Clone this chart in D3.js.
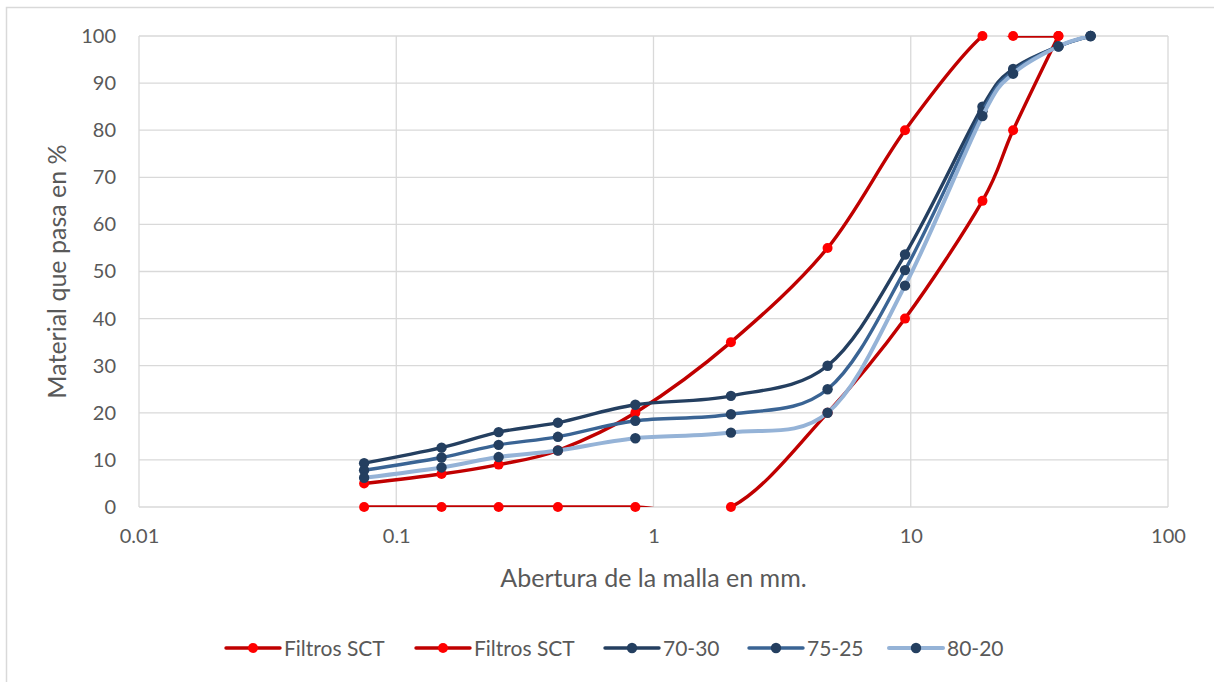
<!DOCTYPE html>
<html>
<head>
<meta charset="utf-8">
<script src="https://cdn.jsdelivr.net/npm/d3@7"></script>
<style>
  body { margin: 0; background: #fff; }
  text { font-family: Lato, "Noto Sans", sans-serif; fill: #595959; }
</style>
</head>
<body>
<div id="chart"></div>
<script>
// sieve openings (mm)
var sieves = [0.075, 0.15, 0.25, 0.425, 0.85, 2, 4.75, 9.5, 19, 25, 37.5, 50];

var sctUpper = [5, 7, 9, 12, 20, 35, 55, 80, 100, 100, 100];
var sctLower = [0, 0, 0, 0, 0, 0, 20, 40, 65, 80, 100];
var mix7030 = [9.3, 12.6, 15.9, 17.9, 21.7, 23.6, 30, 53.6, 85, 93, 97.8, 100];
var mix7525 = [7.8, 10.5, 13.2, 14.9, 18.3, 19.7, 25, 50.3, 84, 92.5, 97.8, 100];
var mix8020 = [6.2, 8.4, 10.6, 12, 14.6, 15.8, 20, 47, 83, 92, 97.8, 100];

var xTicks = [0.01, 0.1, 1, 10, 100];
var yTicks = [0, 10, 20, 30, 40, 50, 60, 70, 80, 90, 100];

var series = [
  { name: "Filtros SCT", values: sctUpper, line: "#C00000", marker: "#FF0000", r: 5, w: 3.4 },
  { name: "Filtros SCT", values: sctLower, line: "#C00000", marker: "#FF0000", r: 5, w: 3.4 },
  { name: "70-30", values: mix7030, line: "#243F60", marker: "#243F60", r: 5.2, w: 3.4 },
  { name: "75-25", values: mix7525, line: "#3A6494", marker: "#243F60", r: 5.2, w: 3.4 },
  { name: "80-20", values: mix8020, line: "#95B3D7", marker: "#243F60", r: 5.2, w: 4 }
];

var W = 1214, H = 682;
var margin = {top: 36, right: 46, bottom: 175, left: 139};
var width = W - margin.left - margin.right,
    height = H - margin.top - margin.bottom;

var x = d3.scaleLog().domain([0.01, 100]).range([0, width]);
var y = d3.scaleLinear().domain([0, 100]).range([height, 0]);

var svg = d3.select("#chart").append("svg")
    .attr("width", W).attr("height", H);

// chart border (only left/top visible in the crop)
svg.append("path")
    .attr("d", "M6.5," + H + "V7.5H" + W)
    .attr("fill", "none").attr("stroke", "#d9d9d9").attr("stroke-width", 1.5);

var g = svg.append("g")
    .attr("transform", "translate(" + margin.left + "," + margin.top + ")");

// gridlines
g.selectAll(".hgrid").data(yTicks).enter().append("line")
    .attr("x1", 0).attr("x2", width)
    .attr("y1", function(d) { return y(d); }).attr("y2", function(d) { return y(d); })
    .attr("stroke", "#d9d9d9").attr("stroke-width", 1.3);
g.selectAll(".vgrid").data(xTicks).enter().append("line")
    .attr("y1", 0).attr("y2", height)
    .attr("x1", function(d) { return x(d); }).attr("x2", function(d) { return x(d); })
    .attr("stroke", "#d9d9d9").attr("stroke-width", 1.3);

// axes
var xAxis = d3.axisBottom(x).tickValues(xTicks).tickSize(0).tickPadding(22)
    .tickFormat(function(d) { return String(d); });
g.append("g").attr("transform", "translate(0," + height + ")").call(xAxis)
    .call(function(s) { s.select(".domain").remove(); })
    .selectAll("text").style("font-size", "20px").attr("fill", "#595959");

var yAxis = d3.axisLeft(y).tickValues(yTicks).tickSize(0).tickPadding(23);
g.append("g").call(yAxis)
    .call(function(s) { s.select(".domain").remove(); })
    .selectAll("text").style("font-size", "20px").attr("fill", "#595959");

// axis titles
svg.append("text")
    .attr("x", margin.left + width / 2).attr("y", 587)
    .attr("text-anchor", "middle").style("font-size", "25px")
    .text("Abertura de la malla en mm.");
svg.append("text")
    .attr("transform", "translate(66," + (margin.top + height / 2) + ") rotate(-90)")
    .attr("text-anchor", "middle").style("font-size", "25px")
    .text("Material que pasa en %");

// clip to plot area
svg.append("defs").append("clipPath").attr("id", "plotclip")
  .append("rect").attr("x", 0).attr("y", 0).attr("width", width).attr("height", height);

var line = d3.line()
    .x(function(d) { return x(d[0]); })
    .y(function(d) { return y(d[1]); })
    .curve(d3.curveCatmullRom.alpha(0));

var plot = g.append("g");
series.forEach(function(s) {
  var pts = s.values.map(function(v, i) { return [sieves[i], v]; });
  plot.append("path")
      .attr("d", line(pts))
      .attr("clip-path", "url(#plotclip)")
      .attr("fill", "none").attr("stroke", s.line).attr("stroke-width", s.w)
      .attr("stroke-linecap", "round");
  plot.selectAll(null).data(pts).enter().append("circle")
      .attr("cx", function(d) { return x(d[0]); })
      .attr("cy", function(d) { return y(d[1]); })
      .attr("r", s.r).attr("fill", s.marker);
});

// legend
var legendX = [226, 416, 605, 749, 889];
var leg = svg.append("g").attr("transform", "translate(0,648)");
series.forEach(function(s, i) {
  var lg = leg.append("g").attr("transform", "translate(" + legendX[i] + ",0)");
  lg.append("line").attr("x1", 0).attr("x2", 54).attr("y1", 0).attr("y2", 0)
      .attr("stroke", s.line).attr("stroke-width", s.w).attr("stroke-linecap", "round");
  lg.append("circle").attr("cx", 27).attr("cy", 0).attr("r", s.r).attr("fill", s.marker);
  lg.append("text").attr("x", 58).attr("y", 0).attr("dy", "0.36em")
      .style("font-size", "21px").text(s.name);
});
</script>
</body>
</html>
